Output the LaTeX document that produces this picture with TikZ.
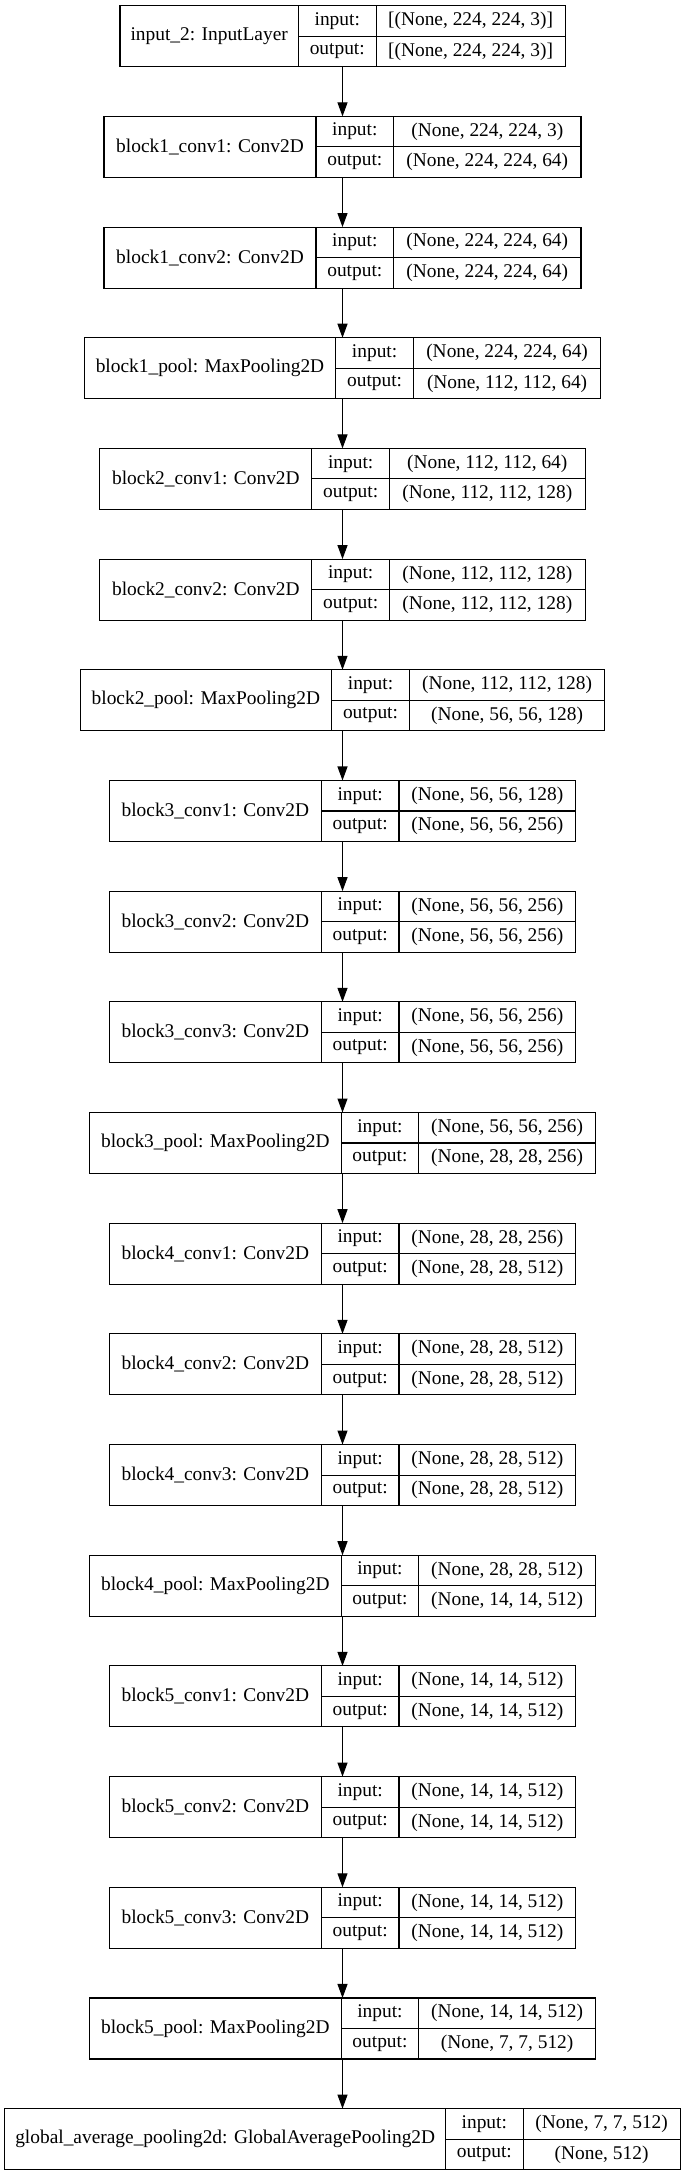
\documentclass[tikz,border=0pt]{standalone}
\usepackage{fontspec}
\setmainfont{Liberation Serif}
\usepackage{tikz}
\usetikzlibrary{arrows.meta,positioning}

\begin{document}
\begin{tikzpicture}[x=1pt, y=1pt,
    record/.style={rectangle, inner sep=0pt, outer sep=0pt, minimum height=61pt},
    cell/.style={rectangle, draw, line width=1.1pt, inner sep=0pt, outer sep=0pt,
        font=\fontsize{19.4}{23}\selectfont, align=center},
    namecell/.style={cell, minimum height=61pt},
    iocell/.style={cell, minimum height=30.5pt, minimum width=77.6pt},
    valcell/.style={cell, minimum height=30.5pt},
    arrow/.style={-{Triangle[length=14pt, width=10pt]}, line width=1.1pt}]

    \useasboundingbox (0,0) rectangle (683,-2176);

    % Layers
    \foreach \i/\nm/\wn/\wv/\vin/\vout [evaluate=\i as \yy using -(36.2+110.68*\i)] in {
        0/input\_2: InputLayer/178.5/189/{[(None, 224, 224, 3)]}/{[(None, 224, 224, 3)]},
        1/block1\_conv1: Conv2D/212/187.4/{(None, 224, 224, 3)}/{(None, 224, 224, 64)},
        2/block1\_conv2: Conv2D/212/187.4/{(None, 224, 224, 64)}/{(None, 224, 224, 64)},
        3/block1\_pool: MaxPooling2D/251.6/187.4/{(None, 224, 224, 64)}/{(None, 112, 112, 64)},
        4/block2\_conv1: Conv2D/212/195.6/{(None, 112, 112, 64)}/{(None, 112, 112, 128)},
        5/block2\_conv2: Conv2D/212/195.6/{(None, 112, 112, 128)}/{(None, 112, 112, 128)},
        6/block2\_pool: MaxPooling2D/251.6/195.6/{(None, 112, 112, 128)}/{(None, 56, 56, 128)},
        7/block3\_conv1: Conv2D/212/176.7/{(None, 56, 56, 128)}/{(None, 56, 56, 256)},
        8/block3\_conv2: Conv2D/212/176.7/{(None, 56, 56, 256)}/{(None, 56, 56, 256)},
        9/block3\_conv3: Conv2D/212/176.7/{(None, 56, 56, 256)}/{(None, 56, 56, 256)},
        10/block3\_pool: MaxPooling2D/251.6/176.7/{(None, 56, 56, 256)}/{(None, 28, 28, 256)},
        11/block4\_conv1: Conv2D/212/176.7/{(None, 28, 28, 256)}/{(None, 28, 28, 512)},
        12/block4\_conv2: Conv2D/212/176.7/{(None, 28, 28, 512)}/{(None, 28, 28, 512)},
        13/block4\_conv3: Conv2D/212/176.7/{(None, 28, 28, 512)}/{(None, 28, 28, 512)},
        14/block4\_pool: MaxPooling2D/251.6/176.7/{(None, 28, 28, 512)}/{(None, 14, 14, 512)},
        15/block5\_conv1: Conv2D/212/176.7/{(None, 14, 14, 512)}/{(None, 14, 14, 512)},
        16/block5\_conv2: Conv2D/212/176.7/{(None, 14, 14, 512)}/{(None, 14, 14, 512)},
        17/block5\_conv3: Conv2D/212/176.7/{(None, 14, 14, 512)}/{(None, 14, 14, 512)},
        18/block5\_pool: MaxPooling2D/251.6/176.7/{(None, 14, 14, 512)}/{(None, 7, 7, 512)},
        19/global\_average\_pooling2d: GlobalAveragePooling2D/440.6/157/{(None, 7, 7, 512)}/{(None, 512)}} {
        \pgfmathsetmacro\wt{\wn+77.6+\wv}
        \node[record, minimum width=\wt pt] (lay\i) at (342.5,\yy) {};
        \node[namecell, minimum width=\wn pt, anchor=west] (name\i) at (lay\i.west) {\nm};
        \node[iocell, anchor=north west] (in\i) at (name\i.north east) {input:};
        \node[iocell, below=0pt of in\i] (out\i) {output:};
        \node[valcell, minimum width=\wv pt, right=0pt of in\i] (inval\i) {\vin};
        \node[valcell, minimum width=\wv pt, right=0pt of out\i] (outval\i) {\vout};
    }

    % Arrows
    \foreach \i [evaluate=\i as \j using int(\i+1)] in {0,...,18}
        \draw[arrow] (lay\i) -- (lay\j);

\end{tikzpicture}
\end{document}
